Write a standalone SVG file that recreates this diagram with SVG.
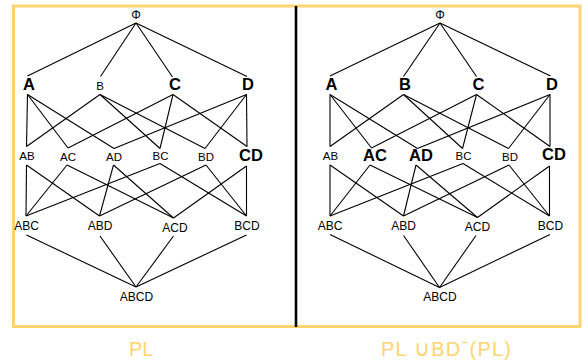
<svg xmlns="http://www.w3.org/2000/svg" width="582" height="362" viewBox="0 0 582 362">
  <style>
    .frame { fill: none; stroke: #FFD46E; stroke-width: 3; }
    .divider { stroke: #000; stroke-width: 2.6; }
    .edges line { stroke: #000; stroke-width: 1.1; }
    text { font-family: "Liberation Sans", Arial, sans-serif; fill: #000; text-anchor: middle; }
    .s { font-size: 11.5px; }
    .m { font-size: 12px; }
    .b { font-size: 16.5px; font-weight: bold; }
    .phi { font-size: 12px; }
    .caption { font-size: 20px; fill: #FFD46E; text-anchor: start; }
  </style>

  <rect class="frame" x="13.5" y="6" width="566.5" height="320.5"/>
  <line class="divider" x1="296" y1="6" x2="296" y2="327"/>

  <!-- left lattice: connectors -->
  <g id="edges-left" class="edges">
    <line x1="136" y1="23" x2="27.5" y2="76"/>
    <line x1="136" y1="23" x2="100.5" y2="76.5"/>
    <line x1="136" y1="23" x2="172.5" y2="77"/>
    <line x1="136" y1="23" x2="247" y2="76.5"/>

    <line x1="27.5" y1="94.5" x2="26.5" y2="146.5"/>
    <line x1="27.5" y1="94.5" x2="68" y2="148"/>
    <line x1="27.5" y1="94.5" x2="114" y2="148.5"/>
    <line x1="100" y1="94.5" x2="26.5" y2="146.5"/>
    <line x1="100" y1="94.5" x2="160" y2="148.5"/>
    <line x1="100" y1="94.5" x2="205" y2="148.5"/>
    <line x1="173" y1="94.5" x2="68" y2="148"/>
    <line x1="173" y1="94.5" x2="160" y2="148.5"/>
    <line x1="173" y1="94.5" x2="247" y2="146.5"/>
    <line x1="246.5" y1="94.5" x2="114" y2="148.5"/>
    <line x1="246.5" y1="94.5" x2="205" y2="148.5"/>
    <line x1="246.5" y1="94.5" x2="247" y2="146.5"/>

    <line x1="26.5" y1="165" x2="26" y2="216"/>
    <line x1="26.5" y1="165" x2="99.5" y2="216"/>
    <line x1="67" y1="165" x2="26" y2="216"/>
    <line x1="67" y1="165" x2="173.5" y2="218"/>
    <line x1="113.5" y1="165" x2="99.5" y2="216"/>
    <line x1="113.5" y1="165" x2="173.5" y2="218"/>
    <line x1="160" y1="163.5" x2="26" y2="216"/>
    <line x1="160" y1="163.5" x2="246.5" y2="216"/>
    <line x1="206" y1="165" x2="99.5" y2="216"/>
    <line x1="206" y1="165" x2="246.5" y2="216"/>
    <line x1="246.5" y1="166" x2="173.5" y2="218"/>
    <line x1="246.5" y1="166" x2="246.5" y2="216"/>

    <line x1="26.5" y1="235" x2="136" y2="287"/>
    <line x1="100" y1="236" x2="136" y2="287"/>
    <line x1="173.5" y1="236" x2="136" y2="287"/>
    <line x1="246.5" y1="235" x2="136" y2="287"/>
  </g>

  <!-- left lattice: nodes -->
  <g id="L-phi"><text class="phi" x="136" y="18.5">Φ</text></g>
  <g id="L-A"><text class="b" x="29" y="90">A</text></g>
  <g id="L-B"><text class="s" x="100" y="90">B</text></g>
  <g id="L-C"><text class="b" x="175" y="90">C</text></g>
  <g id="L-D"><text class="b" x="248" y="90">D</text></g>
  <g id="L-AB"><text class="s" x="27" y="160">AB</text></g>
  <g id="L-AC"><text class="s" x="68" y="161">AC</text></g>
  <g id="L-AD"><text class="s" x="114" y="161">AD</text></g>
  <g id="L-BC"><text class="s" x="160.5" y="160">BC</text></g>
  <g id="L-BD"><text class="s" x="206" y="161">BD</text></g>
  <g id="L-CD"><text class="b" x="251" y="160.5">CD</text></g>
  <g id="L-ABC"><text class="m" x="26.5" y="230">ABC</text></g>
  <g id="L-ABD"><text class="m" x="100" y="230">ABD</text></g>
  <g id="L-ACD"><text class="m" x="175" y="231.5">ACD</text></g>
  <g id="L-BCD"><text class="m" x="247" y="230">BCD</text></g>
  <g id="L-ABCD"><text class="m" x="136.5" y="301">ABCD</text></g>

  <!-- right lattice: connectors -->
  <g id="edges-right" class="edges">
    <line x1="440" y1="23" x2="330" y2="76"/>
    <line x1="440" y1="23" x2="403.5" y2="76.5"/>
    <line x1="440" y1="23" x2="476.5" y2="76.5"/>
    <line x1="440" y1="23" x2="550.5" y2="76"/>

    <line x1="330" y1="94.5" x2="330" y2="146.5"/>
    <line x1="330" y1="94.5" x2="371.5" y2="148"/>
    <line x1="330" y1="94.5" x2="417.5" y2="148.5"/>
    <line x1="403.5" y1="94.5" x2="330" y2="146.5"/>
    <line x1="403.5" y1="94.5" x2="462.5" y2="148.5"/>
    <line x1="403.5" y1="94.5" x2="508.5" y2="148.5"/>
    <line x1="476.5" y1="94.5" x2="371.5" y2="148"/>
    <line x1="476.5" y1="94.5" x2="462.5" y2="148.5"/>
    <line x1="476.5" y1="94.5" x2="550" y2="146.5"/>
    <line x1="550" y1="94.5" x2="417.5" y2="148.5"/>
    <line x1="550" y1="94.5" x2="508.5" y2="148.5"/>
    <line x1="550" y1="94.5" x2="550" y2="146.5"/>

    <line x1="330" y1="165" x2="330" y2="216"/>
    <line x1="330" y1="165" x2="403.5" y2="216"/>
    <line x1="370" y1="165" x2="330" y2="216"/>
    <line x1="370" y1="165" x2="477.5" y2="217.5"/>
    <line x1="416" y1="165" x2="403.5" y2="216"/>
    <line x1="416" y1="165" x2="477.5" y2="217.5"/>
    <line x1="463" y1="163.5" x2="330" y2="216"/>
    <line x1="463" y1="163.5" x2="549.5" y2="216"/>
    <line x1="509" y1="165" x2="403.5" y2="216"/>
    <line x1="509" y1="165" x2="549.5" y2="216"/>
    <line x1="549.5" y1="166" x2="477.5" y2="217.5"/>
    <line x1="549.5" y1="166" x2="549.5" y2="216"/>

    <line x1="330" y1="234.5" x2="439.5" y2="287.5"/>
    <line x1="403.5" y1="235.5" x2="439.5" y2="287.5"/>
    <line x1="476" y1="235.5" x2="439.5" y2="287.5"/>
    <line x1="550" y1="234.5" x2="439.5" y2="287.5"/>
  </g>

  <!-- right lattice: nodes -->
  <g id="R-phi"><text class="phi" x="440" y="18.5">Φ</text></g>
  <g id="R-A"><text class="b" x="331.5" y="89.5">A</text></g>
  <g id="R-B"><text class="b" x="405" y="89.5">B</text></g>
  <g id="R-C"><text class="b" x="478.5" y="89.5">C</text></g>
  <g id="R-D"><text class="b" x="552" y="89.5">D</text></g>
  <g id="R-AB"><text class="s" x="330.5" y="159.5">AB</text></g>
  <g id="R-AC"><text class="b" x="375" y="160.5">AC</text></g>
  <g id="R-AD"><text class="b" x="421" y="160.5">AD</text></g>
  <g id="R-BC"><text class="s" x="463.5" y="159.5">BC</text></g>
  <g id="R-BD"><text class="s" x="510" y="161">BD</text></g>
  <g id="R-CD"><text class="b" x="554" y="160">CD</text></g>
  <g id="R-ABC"><text class="m" x="330" y="230">ABC</text></g>
  <g id="R-ABD"><text class="m" x="403.5" y="230">ABD</text></g>
  <g id="R-ACD"><text class="m" x="477.5" y="231">ACD</text></g>
  <g id="R-BCD"><text class="m" x="550.5" y="230">BCD</text></g>
  <g id="R-ABCD"><text class="m" x="440" y="300.5">ABCD</text></g>

  <!-- panel captions -->
  <text class="caption" x="129" y="356">PL</text>
  <text class="caption" x="381" y="356" textLength="130" lengthAdjust="spacing">PL <tspan font-size="22">∪</tspan>BDˉ(PL)</text>
</svg>
